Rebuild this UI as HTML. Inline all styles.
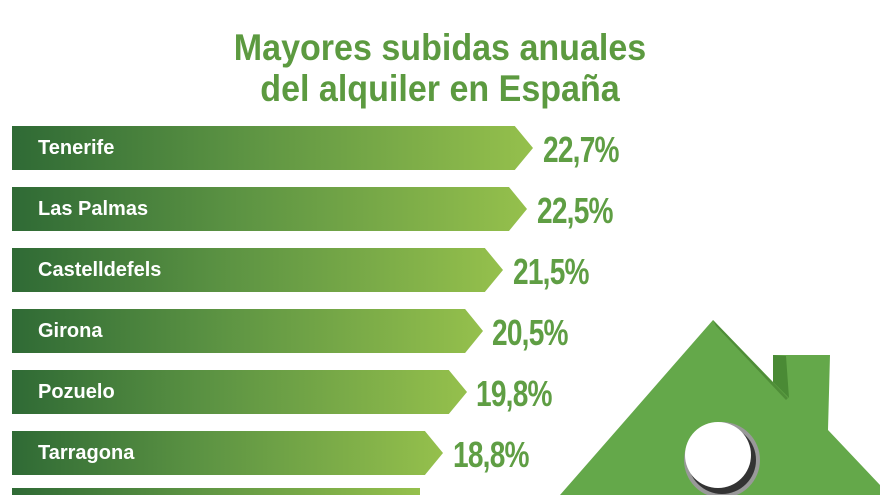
<!DOCTYPE html>
<html style="width:880px;height:495px;overflow:hidden"><head><meta charset="utf-8"><style>
body{margin:0;width:880px;height:495px;overflow:hidden;background:#fff;font-family:"Liberation Sans",sans-serif;position:relative}
.t{position:absolute;left:0;width:880px;text-align:center;color:#5c9a40;font-weight:bold;font-size:37px;line-height:40px}
.bar{position:absolute;left:12px;height:44px;background:linear-gradient(90deg,#2f6a35,#5d9443 45%,#95c04c);}
.lab{position:absolute;left:38px;color:#fff;font-weight:bold;font-size:20px;line-height:44px}
.p{position:absolute;color:#5f9e44;font-weight:bold;font-size:36px;line-height:44px;transform:scaleX(.78);transform-origin:left center;letter-spacing:-1px}
</style></head><body>
<div class="t" style="top:28px;transform:scaleX(.92)">Mayores subidas anuales</div>
<div class="t" style="top:69px;transform:scaleX(.92)">del alquiler en España</div>

<svg width="880" height="495" style="position:absolute;left:0;top:0">
<polygon points="560,495 713,320 773,382 773,355 830,355 828,430 880,485 880,495" fill="#64a84a"/>
<polygon points="713,320 788,398 786,400 716,326" fill="#4f8d38"/>
<polygon points="773,355 786,356 789,398 773,382" fill="#4a8a35"/>
<circle cx="722" cy="460" r="38" fill="#999"/>
<circle cx="722" cy="460" r="34" fill="#333"/>
<circle cx="718" cy="455" r="33" fill="#fff"/>
</svg>

<div class="bar" style="top:126px;width:521px;clip-path:polygon(0 0,96.5% 0,100% 50%,96.5% 100%,0 100%)"></div><div class="lab" style="top:126px">Tenerife</div><div class="p" style="top:128px;left:543px">22,7%</div>
<div class="bar" style="top:187px;width:515px;clip-path:polygon(0 0,96.5% 0,100% 50%,96.5% 100%,0 100%)"></div><div class="lab" style="top:187px">Las Palmas</div><div class="p" style="top:189px;left:537px">22,5%</div>
<div class="bar" style="top:248px;width:491px;clip-path:polygon(0 0,96.3% 0,100% 50%,96.3% 100%,0 100%)"></div><div class="lab" style="top:248px">Castelldefels</div><div class="p" style="top:250px;left:513px">21,5%</div>
<div class="bar" style="top:309px;width:471px;clip-path:polygon(0 0,96.2% 0,100% 50%,96.2% 100%,0 100%)"></div><div class="lab" style="top:309px">Girona</div><div class="p" style="top:311px;left:492px">20,5%</div>
<div class="bar" style="top:370px;width:455px;clip-path:polygon(0 0,96% 0,100% 50%,96% 100%,0 100%)"></div><div class="lab" style="top:370px">Pozuelo</div><div class="p" style="top:372px;left:476px">19,8%</div>
<div class="bar" style="top:431px;width:431px;clip-path:polygon(0 0,95.8% 0,100% 50%,95.8% 100%,0 100%)"></div><div class="lab" style="top:431px">Tarragona</div><div class="p" style="top:433px;left:453px">18,8%</div>
<div class="bar" style="top:488px;height:7px;width:408px"></div>
</body></html>
